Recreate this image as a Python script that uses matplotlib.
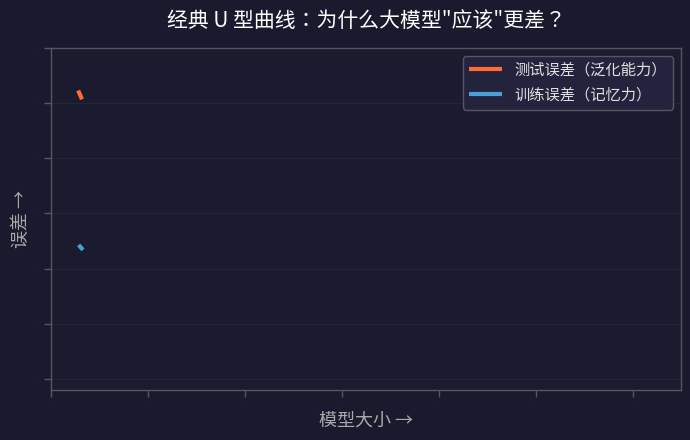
import matplotlib
matplotlib.use("Agg")
import matplotlib.pyplot as plt

plt.rcParams['font.family'] = ['Noto Sans CJK JP', 'DejaVu Sans']

# Data (only the first few points of each curve are drawn)
model_size = [0.28, 0.32]
test_error = [5.23, 5.07]
train_size = [0.285, 0.33]
train_error = [2.43, 2.34]

x_ticks = [0, 1, 2, 3, 4, 5, 6]
y_ticks = [0, 1, 2, 3, 4, 5, 6]

title = '经典 U 型曲线：为什么大模型"应该"更差？'
xlabel = '模型大小 →'
ylabel = '误差 →'
test_label = '测试误差（泛化能力）'
train_label = '训练误差（记忆力）'

bg = '#1a1a2e'
fig = plt.figure(figsize=(6.9, 4.4), dpi=100, facecolor=bg)
ax = fig.add_axes([0.0739, 0.1136, 0.913, 0.7773])
ax.set_facecolor('#1b1b2f')

ax.plot(model_size, test_error, color='#ff6b35', lw=3, label=test_label, solid_capstyle='butt')
ax.plot(train_size, train_error, color='#4a9fd4', lw=3, label=train_label, solid_capstyle='butt')

ax.set_xlim(0, 6.5)
ax.set_ylim(-0.2, 6)
ax.set_xticks(x_ticks)
ax.set_yticks(y_ticks)
ax.set_xticklabels([str(v) for v in x_ticks], fontsize=1, color='#666677')
ax.set_yticklabels([str(v) for v in y_ticks], fontsize=1, color='#666677')
ax.tick_params(colors='#555566', length=5, width=1)
ax.grid(axis='y', color='#252539', lw=0.8)
ax.set_axisbelow(True)
for s in ax.spines.values():
    s.set_color('#555560')
    s.set_linewidth(1)

ax.set_title(title, color='white', fontsize=15, pad=15)
ax.set_xlabel(xlabel, color='#aaaaaa', fontsize=13, labelpad=6)
ax.set_ylabel(ylabel, color='#aaaaaa', fontsize=13, labelpad=6)

leg = ax.legend(loc='upper right', fontsize=11, facecolor='#23233e', edgecolor='#555566',
                framealpha=1, labelcolor='#e0e0e0', handlelength=2.2)
leg.get_frame().set_linewidth(1)

fig.savefig('out.png', dpi=100, facecolor=bg)
